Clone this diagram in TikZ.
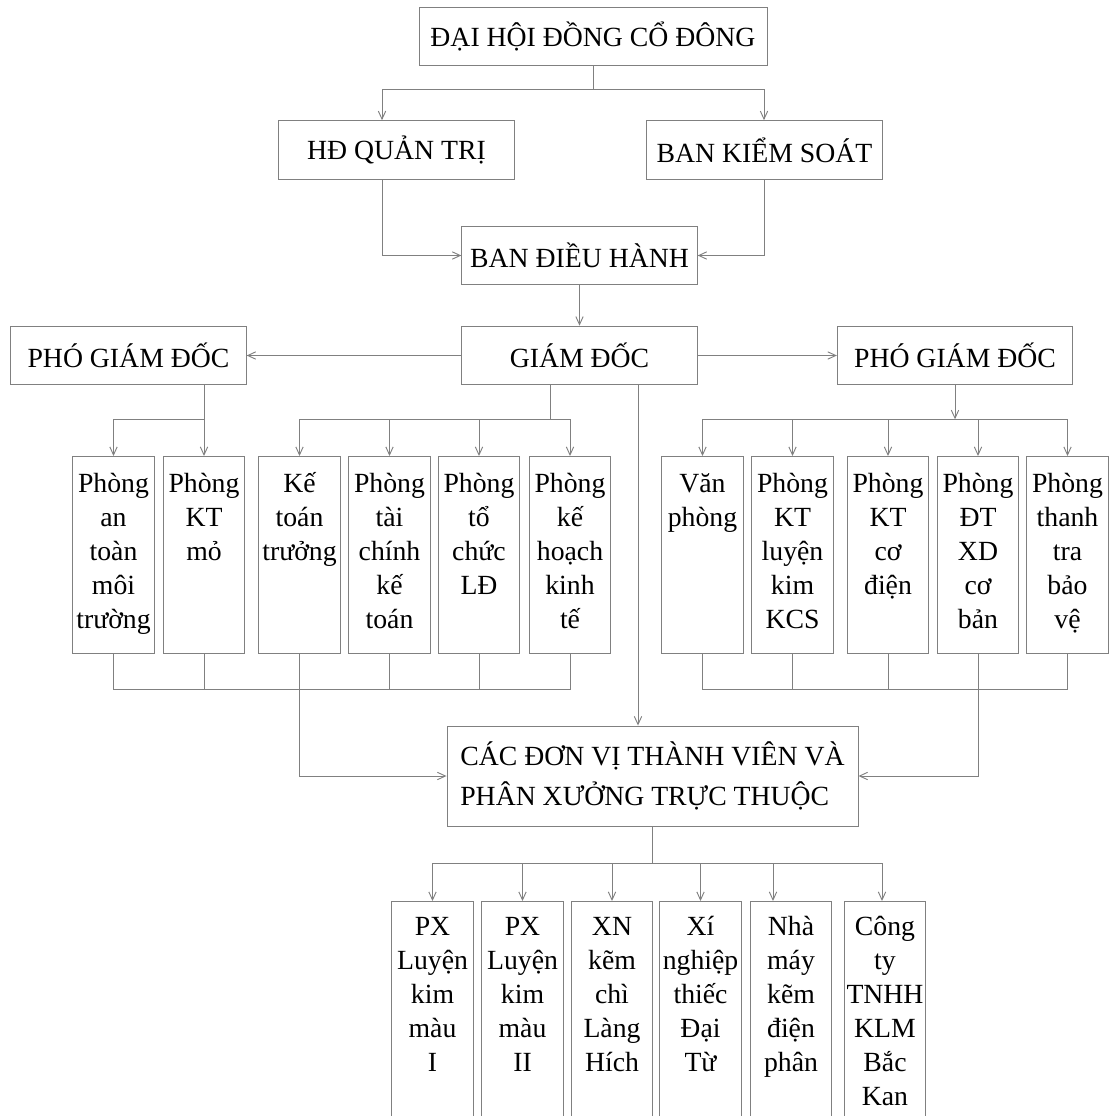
\documentclass[tikz,border=0pt]{standalone}
\usepackage{fontspec}
\setmainfont{Liberation Serif}
\usetikzlibrary{arrows.meta,calc}
\definecolor{linegray}{RGB}{128,128,128}

\begin{document}
\begin{tikzpicture}[x=0.75pt,y=-0.75pt,
  line/.style={draw=linegray, line width=0.7pt},
  arr/.style={line, -{Straight Barb[length=6pt,width=5.5pt]}},
  bigbox/.style={draw=linegray, line width=0.7pt, minimum width=176.5pt, minimum height=44pt, inner sep=0pt, font=\fontsize{20.8}{25.5}\selectfont},
  dept/.style={draw=linegray, line width=0.7pt, text width=61pt, align=center, inner sep=0pt, anchor=north, text height=27pt, text depth=120.75pt, font=\fontsize{20.8}{25.5}\selectfont},
  unitbox/.style={dept, text height=25.5pt, text depth=150pt}]
\useasboundingbox (0,0) rectangle (1109,1116);

\node[bigbox, minimum width=261pt] (dhcd) at (593,36.5) {ĐẠI HỘI ĐỒNG CỔ ĐÔNG};
\node[bigbox] (hdqt) at (396.5,150) {HĐ QUẢN TRỊ};
\node[bigbox] (bks) at (764.5,150) {BAN KIỂM SOÁT};
\node[bigbox] (bdh) at (579.5,255.5) {BAN ĐIỀU HÀNH};
\node[bigbox] (pgdL) at (128.5,355.5) {PHÓ GIÁM ĐỐC};
\node[bigbox] (gd) at (579.5,355.5) {GIÁM ĐỐC};
\node[bigbox] (pgdR) at (955,355.5) {PHÓ GIÁM ĐỐC};

\node[dept] (antoan) at (113.5,456) {Phòng\\an\\toàn\\môi\\trường};
\node[dept] (ktmo) at (204,456) {Phòng\\KT\\mỏ};
\node[dept] (ketoan) at (299.5,456) {Kế\\toán\\trưởng};
\node[dept] (taichinh) at (389.5,456) {Phòng\\tài\\chính\\kế\\toán};
\node[dept] (tochuc) at (479,456) {Phòng\\tổ\\chức\\LĐ};
\node[dept] (kehoach) at (570,456) {Phòng\\kế\\hoạch\\kinh\\tế};
\node[dept] (vanphong) at (702.5,456) {Văn\\phòng};
\node[dept] (luyenkim) at (792.5,456) {Phòng\\KT\\luyện\\kim\\KCS};
\node[dept] (codien) at (888,456) {Phòng\\KT\\cơ\\điện};
\node[dept] (dtxd) at (978,456) {Phòng\\ĐT\\XD\\cơ\\bản};
\node[dept] (thanhtra) at (1067.5,456) {Phòng\\thanh\\tra\\bảo\\vệ};

\node[draw=linegray, line width=0.7pt, minimum width=308.25pt, minimum height=75pt, align=left, inner sep=0pt, font=\fontsize{20.8}{30}\selectfont] (cac) at (652.5,776) {CÁC ĐƠN VỊ THÀNH VIÊN VÀ\\PHÂN XƯỞNG TRỰC THUỘC};

\node[unitbox] (px1) at (432.5,901) {PX\\Luyện\\kim\\màu\\I};
\node[unitbox] (px2) at (522.5,901) {PX\\Luyện\\kim\\màu\\II};
\node[unitbox] (xnlh) at (612,901) {XN\\kẽm\\chì\\Làng\\Hích};
\node[unitbox] (xndt) at (700.5,901) {Xí\\nghiệp\\thiếc\\Đại\\Từ};
\node[unitbox] (nmk) at (791,901) {Nhà\\máy\\kẽm\\điện\\phân};
\node[unitbox] (cty) at (885,901) {Công\\ty\\TNHH\\KLM\\Bắc\\Kan};

\draw[line] (dhcd.south) -- ++(0,23) coordinate (topbus);
\draw[arr] (topbus) -| ($(hdqt.north)+(-14.5,0)$);
\draw[arr] (topbus) -| ($(bks.north)+(-0.5,0)$);
\draw[arr] ($(hdqt.south)+(-14.5,0)$) |- (bdh.west);
\draw[arr] ($(bks.south)+(-0.5,0)$) |- (bdh.east);
\draw[arr] (bdh) -- (gd);
\draw[arr] (gd) -- (pgdL);
\draw[arr] (gd) -- (pgdR);

\draw[arr] (pgdL.south -| ktmo) -- (ktmo.north);
\draw[arr] (pgdL.south -| ktmo) -- ++(0,34) -| (antoan.north);

\draw[line] ($(gd.south)+(-29.5,0)$) -- ++(0,34) coordinate (gdbus);
\draw[arr] (gdbus) -| (ketoan.north);
\draw[arr] (gdbus) -| (kehoach.north);
\draw[arr] (gdbus -| taichinh) -- (taichinh.north);
\draw[arr] (gdbus -| tochuc) -- (tochuc.north);

\draw[arr] (pgdR.south) -- ++(0,34) coordinate (rbus);
\draw[line] (rbus -| vanphong) -- (rbus -| thanhtra);
\foreach \d in {vanphong,luyenkim,codien,dtxd,thanhtra}
  \draw[arr] (rbus -| \d) -- (\d.north);

\draw[line] (antoan.south) -- ++(0,36) -| (kehoach.south);
\foreach \d in {ktmo,taichinh,tochuc}
  \draw[line] (\d.south) -- ++(0,36);
\draw[arr] (ketoan.south) |- (cac.west);
\draw[line] (vanphong.south) -- ++(0,36) -| (thanhtra.south);
\foreach \d in {luyenkim,codien}
  \draw[line] (\d.south) -- ++(0,36);
\draw[arr] (dtxd.south) |- (cac.east);

\coordinate (gdcac) at ($(gd.south)+(58.5,0)$);
\draw[arr] (gdcac) -- (gdcac |- cac.north);

\draw[line] (cac.south) -- ++(0,37) coordinate (cbus);
\draw[line] (cbus -| px1) -- ($(cbus -| cty)+(-3,0)$);
\foreach \u in {px1,px2,xnlh,xndt}
  \draw[arr] (cbus -| \u) -- (\u.north);
\draw[arr] ($(cbus -| nmk)+(-18,0)$) -- ($(nmk.north)+(-18,0)$);
\draw[arr] ($(cbus -| cty)+(-3,0)$) -- ($(cty.north)+(-3,0)$);
\end{tikzpicture}
\end{document}
